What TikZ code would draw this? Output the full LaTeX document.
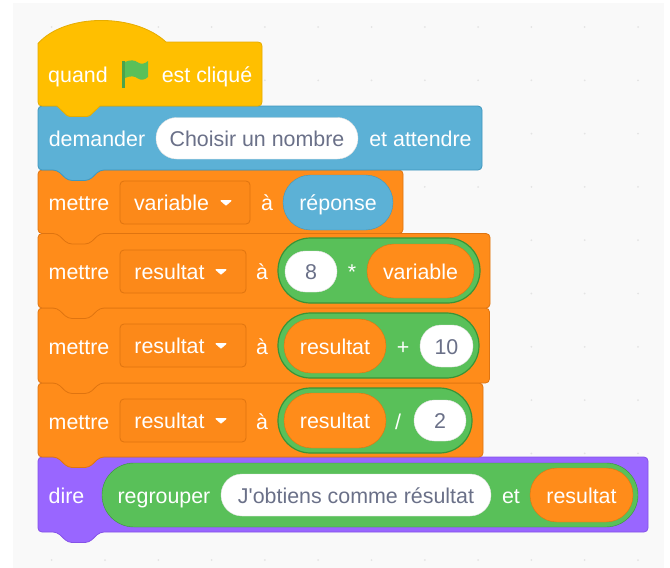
\documentclass[tikz,border=0pt]{standalone}
\usepackage{fontspec}
\setmainfont{Liberation Sans}
\newfontfamily\rawfont{Liberation Sans}
\definecolor{bgc}{HTML}{F9F9F9}
\definecolor{dotc}{HTML}{E4E4E4}
\definecolor{hatc}{HTML}{FFBF00}
\definecolor{hate}{HTML}{E6AC00}
\definecolor{bluec}{HTML}{5CB1D6}
\definecolor{bluee}{HTML}{3F97BE}
\definecolor{orc}{HTML}{FF8C1A}
\definecolor{ore}{HTML}{DF7410}
\definecolor{ddf}{HTML}{FC8919}
\definecolor{grc}{HTML}{59C059}
\definecolor{gre}{HTML}{389438}
\definecolor{puc}{HTML}{9966FF}
\definecolor{pue}{HTML}{8552E8}
\definecolor{txtg}{HTML}{6A7088}
\tikzset{
  x=1pt,y=-1pt,
  hatblock/.style={fill=hatc,draw=hate,line width=0.8pt,line join=round},
  blueblock/.style={fill=bluec,draw=bluee,line width=0.8pt},
  orblock/.style={fill=orc,draw=ore,line width=0.8pt},
  publock/.style={fill=puc,draw=pue,line width=0.8pt},
  lbl/.style={inner sep=0pt,text=white,font=\fontsize{21.4}{25}\selectfont,text height=16.5pt,text depth=0pt},
  lblg/.style={lbl,text=txtg},
  pillw/.style={fill=white,draw=black!12},
  pillb/.style={fill=bluec,draw=bluee},
  pillo/.style={fill=orc,draw=ore},
  pillg/.style={fill=grc,draw=gre},
  pillm/.style={fill=grc,draw=gre,line width=1.2pt},
  ddbox/.style={fill=ddf,draw=ore,line width=0.8pt,rounded corners=4pt},
  ddmark/.style={fill=white,draw=white,line width=1pt,line join=round},
}
% stack block: style, right x, top y, bottom y
\newcommand{\stackblock}[4]{%
  \draw[#1,rounded corners=4pt] (38,#3) -- (#2,#3) -- (#2,#4) -- (100,#4) -- (89,#4+10.5) -- (68,#4+10.5) -- (57,#4) -- (38,#4) -- cycle;}
% pill: style, name, x1, y1, x2, y2, label style, text
\newcommand{\pillnode}[8]{%
  \pgfmathsetmacro{\pcx}{(#3+#5)/2}\pgfmathsetmacro{\pcy}{(#4+#6)/2}%
  \pgfmathsetmacro{\pw}{#5-#3}\pgfmathsetmacro{\ph}{#6-#4}\pgfmathsetmacro{\pr}{\ph/2-0.05}%
  \node[#1,#7,shape=rectangle,minimum width=\pw pt,minimum height=\ph pt,rounded corners=\pr pt] (#2) at (\pcx,\pcy) {#8};}
% dropdown: name, x1, y1, x2, y2, text centre x, text, mark left x
\newcommand{\ddnode}[8]{%
  \draw[ddbox] (#2,#3) rectangle (#4,#5);
  \pgfmathsetmacro{\pcy}{(#3+#5)/2}%
  \node[lbl] (#1) at (#6,\pcy) {#7};
  \draw[ddmark] (#8+1,\pcy-1.8) -- (#8+11,\pcy-1.8) -- (#8+6,\pcy+2.6) -- cycle;}
\begin{document}
\begin{tikzpicture}
\useasboundingbox (0,0) rectangle (670,568);
\fill[white] (0,0) rectangle (670,568);
\fill[bgc] (13,3) rectangle (664,568);
\foreach \i in {0,...,11}\foreach \j in {0,...,10}
  \fill[dotc] ({51.7+53.3*\i},{27+53.3*\j}) circle (1pt);

% purple block
\stackblock{publock}{648}{457}{532}
\pillnode{pillg}{pgroup}{102}{463}{638}{527}{lbl}{}
\node[lbl] (tdire) at (66.5,495) {dire};
\node[lbl] (tregroup) at (164,495) {regrouper};
\pillnode{pillw}{pjobt}{221}{474}{491}{516}{lblg}{\rawfont J'obtiens comme résultat}
\node[lbl] (tet) at (511,495) {et};
\pillnode{pillo}{pres4}{530}{468}{633}{522}{lbl}{resultat}

% orange 4
\stackblock{orblock}{483}{383}{457}
\ddnode{dd4}{120}{399}{246}{442}{169.5}{resultat}{215}
\node[lbl] (tm4) at (79,421) {mettre};
\node[lbl] (ta4) at (262,421) {à};
\pillnode{pillm}{pdiv}{278}{388}{472}{453}{lbl}{}
\pillnode{pillo}{pres3}{284}{393}{386}{448}{lbl}{resultat}
\node[lbl] (tdiv) at (398,421) {/};
\pillnode{pillw}{ptwo}{414}{400}{466}{441}{lblg}{2}

% orange 3
\stackblock{orblock}{489.5}{308}{383}
\ddnode{dd3}{120}{324}{246}{367}{169.5}{resultat}{215}
\node[lbl] (tm3) at (79,346) {mettre};
\node[lbl] (ta3) at (262,346) {à};
\pillnode{pillm}{pplus}{278}{313}{479}{378}{lbl}{}
\pillnode{pillo}{pres2}{284}{319}{386}{373}{lbl}{resultat}
\node[lbl] (tplus) at (403,346) {+};
\pillnode{pillw}{pten}{420}{325}{473}{367}{lblg}{10}

% orange 2
\stackblock{orblock}{490}{233.5}{308}
\ddnode{dd2}{120}{250}{246}{293}{169.5}{resultat}{215}
\node[lbl] (tm2) at (79,271.5) {mettre};
\node[lbl] (ta2) at (262,271.5) {à};
\pillnode{pillm}{pmul}{278}{238}{480}{303}{lbl}{}
\pillnode{pillw}{peight}{285}{251}{337}{292}{lblg}{8}
\node[lbl] (tmul) at (352,271.5) {*};
\pillnode{pillo}{pvar}{367}{244}{474}{298}{lbl}{variable}

% orange 1
\stackblock{orblock}{403}{170}{233.5}
\ddnode{dd1}{120}{181}{250}{224}{171.5}{variable}{220}
\node[lbl] (tm1) at (79,202.5) {mettre};
\node[lbl] (ta1) at (267,202.5) {à};
\pillnode{pillb}{prep}{283}{175}{393}{230}{lbl}{réponse}

% blue block
\stackblock{blueblock}{482}{106}{170}
\node[lbl] (tdem) at (97,138) {demander};
\pillnode{pillw}{pchoix}{156}{117.5}{358}{159}{lblg}{Choisir un nombre}
\node[lbl] (tatt) at (420.5,138) {et attendre};

% hat block
\draw[hatblock] (38,43.5) .. controls (65,13) and (135,13) .. (166,42)
  -- (258,42) .. controls (260.5,42) and (262,43.5) .. (262,46)
  -- (262,102) .. controls (262,104.5) and (260.5,106) .. (258,106)
  -- (100,106) -- (90,115.5) .. controls (89,116) and (88,116.5) .. (87,116.5)
  -- (70,116.5) .. controls (69,116.5) and (68,116) .. (67,115.5)
  -- (57,106) -- (42,106) .. controls (39.5,106) and (38,104.5) .. (38,102) -- cycle;
\node[lbl] (tquand) at (78,74.5) {quand};
\node[lbl] (tclic) at (207,74.5) {est cliqué};
\fill[grc!85!black] (122,60.5) rectangle (125,88);
\fill[grc] (125,62) .. controls (130,59.5) and (135,60) .. (138,62.5)
  .. controls (141,64.5) and (145,64) .. (148,61) -- (148,77)
  .. controls (145,80) and (141,80.5) .. (138,78.5)
  .. controls (135,76) and (130,75.5) .. (125,78) -- cycle;
\end{tikzpicture}
\end{document}
